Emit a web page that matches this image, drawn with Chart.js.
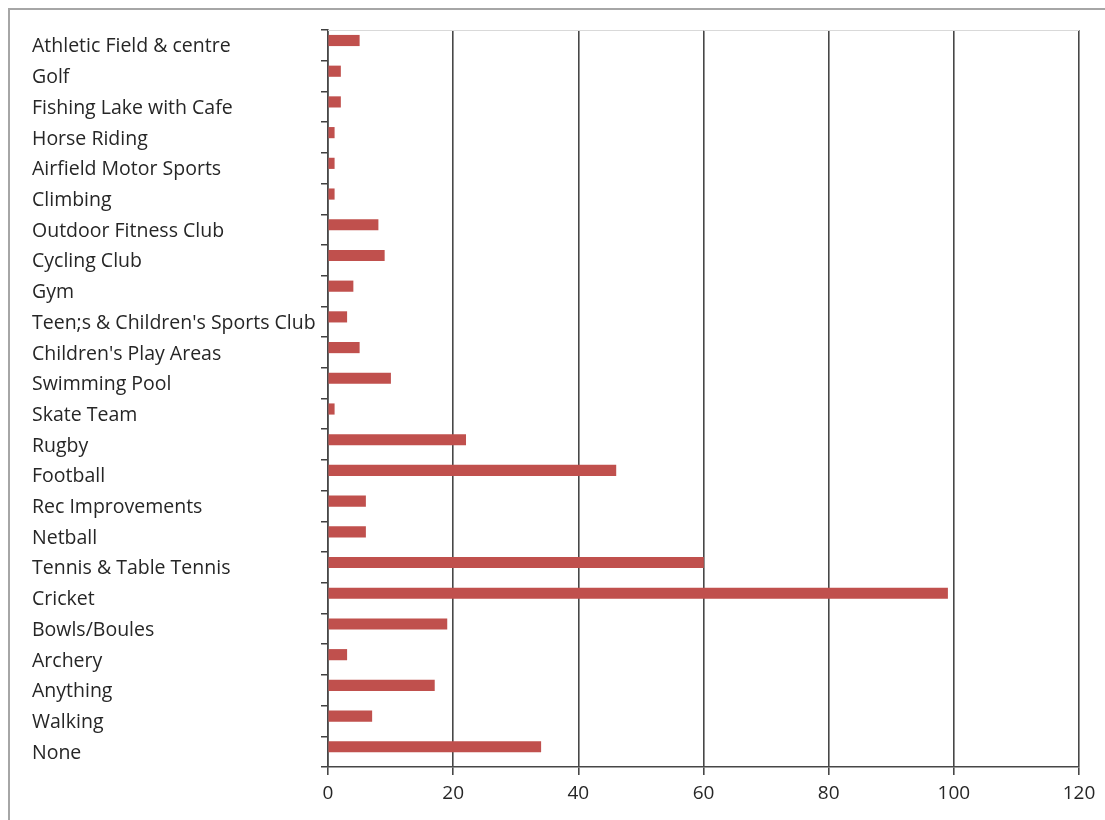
<!DOCTYPE html>
<html>
<head>
<meta charset="utf-8">
<script src="https://cdn.jsdelivr.net/npm/chart.js@4/dist/chart.umd.min.js"></script>
<style>
  html, body { margin: 0; padding: 0; background: #fff; }
  #wrap { position: relative; width: 1105px; height: 820px; overflow: hidden; }
  #frame { position: absolute; left: 8px; top: 8px; width: 1200px; height: 900px;
           border-top: 2px solid #a6a6a6; border-left: 2px solid #a6a6a6; }
  canvas { position: absolute; left: 0; top: 0; }
</style>
</head>
<body>
<div id="wrap">
  <div id="frame"></div>
  <canvas id="c" width="1105" height="820"></canvas>
</div>
<script>
const categories = [
  "Athletic Field & centre", "Golf", "Fishing Lake with Cafe", "Horse Riding",
  "Airfield Motor Sports", "Climbing", "Outdoor Fitness Club", "Cycling Club", "Gym",
  "Teen;s & Children's Sports Club", "Children's Play Areas", "Swimming Pool",
  "Skate Team", "Rugby", "Football", "Rec Improvements", "Netball",
  "Tennis & Table Tennis", "Cricket", "Bowls/Boules", "Archery", "Anything",
  "Walking", "None"
];
const responses = [5, 2, 2, 1, 1, 1, 8, 9, 4, 3, 5, 10, 1, 22, 46, 6, 6, 60, 99, 19, 3, 17, 7, 34];
const xTicks = [0, 20, 40, 60, 80, 100, 120];

const FONT = "'Open Sans', 'Noto Sans', sans-serif";
const n = categories.length;
// bars sit in the upper half of each category slot
const barShift = 0.158;

const plotTop = {
  id: 'plotTop',
  afterDraw(chart) {
    const { ctx, chartArea: a } = chart;
    ctx.save();
    ctx.strokeStyle = '#d9d9d9';
    ctx.lineWidth = 1;
    ctx.beginPath();
    ctx.moveTo(a.left, a.top + 0.5);
    ctx.lineTo(a.right, a.top + 0.5);
    ctx.stroke();
    ctx.restore();
  }
};

new Chart(document.getElementById('c'), {
  type: 'bar',
  data: {
    labels: categories,
    datasets: [{
      data: responses.map((v, i) => ({ x: v, y: i })),
      yAxisID: 'yb',
      backgroundColor: '#c0504d',
      borderWidth: 0,
      barThickness: 10.5
    }]
  },
  options: {
    indexAxis: 'y',
    responsive: false,
    animation: false,
    layout: { padding: { left: 32, right: 26, top: 30, bottom: 0 } },
    plugins: { legend: { display: false }, tooltip: { enabled: false } },
    scales: {
      x: {
        type: 'linear',
        min: 0, max: 120,
        afterBuildTicks(s) { s.ticks = xTicks.map(v => ({ value: v })); },
        afterFit(s) { s.height = 53; },
        grid: { color: '#474747', lineWidth: 1.6, tickLength: 8, drawTicks: true },
        border: { color: '#474747', width: 1.6 },
        ticks: { font: { family: FONT, size: 19 }, color: '#262626', padding: 7 }
      },
      y: {
        type: 'category',
        labels: categories,
        afterFit(s) { s.width = 296; },
        grid: { offset: true, drawOnChartArea: false, color: '#404040', lineWidth: 1.5, tickLength: 7 },
        border: { color: '#474747', width: 1.6 },
        ticks: { crossAlign: 'far', font: { family: FONT, size: 19.5 }, color: '#262626', autoSkip: false, labelOffset: 1.5 }
      },
      yb: {
        type: 'linear',
        display: false,
        offset: false,
        reverse: true,
        min: -0.5 + barShift,
        max: n - 0.5 + barShift
      }
    }
  },
  plugins: [plotTop]
});
</script>
</body>
</html>
